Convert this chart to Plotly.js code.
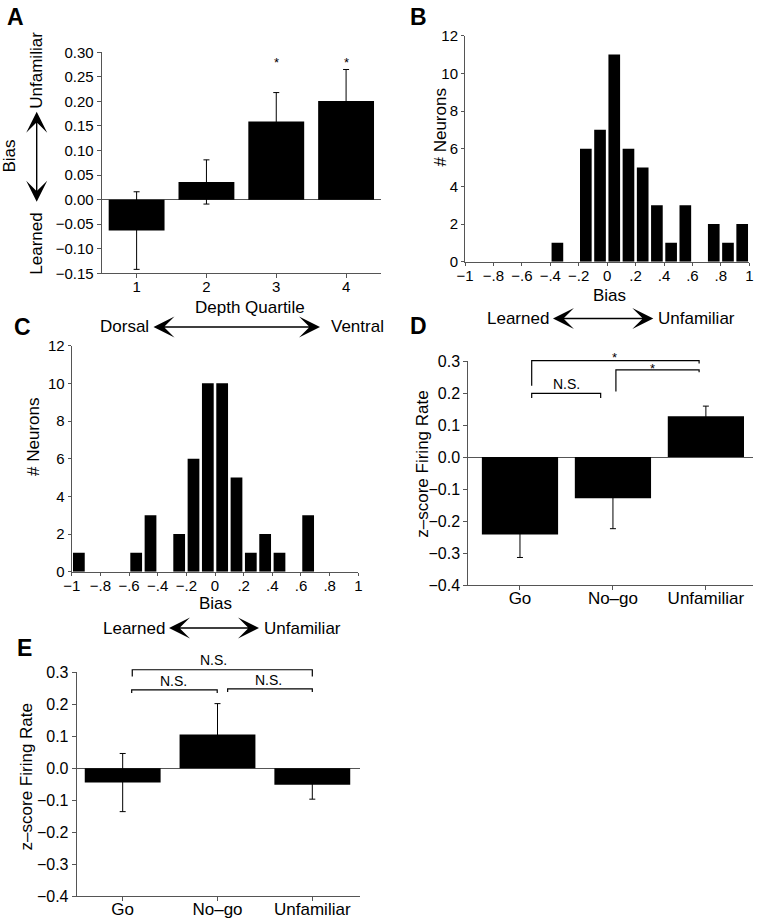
<!DOCTYPE html>
<html><head><meta charset="utf-8">
<script src="https://cdn.plot.ly/plotly-3.0.1.min.js"></script>
<style>html,body{margin:0;padding:0;background:#fff}</style>
</head><body>
<div id="chart" style="width:758px;height:922px"></div>
<script>
// ---------- DATA ----------
// Panel A: bias by depth quartile
const quartiles = [1, 2, 3, 4];
const biasMean = [-0.063, 0.036, 0.159, 0.201];
const biasErr = [0.079, 0.045, 0.059, 0.064];
const sigA = ['', '', '*', '*'];

// Panel B: histogram of bias
const binCentersB = [-0.35, -0.15, -0.05, 0.05, 0.15, 0.25, 0.35, 0.45, 0.55, 0.65, 0.75, 0.85, 0.95];
const countsB = [1, 6, 7, 11, 6, 5, 3, 1, 3, 0, 2, 1, 2];

// Panel C: histogram of bias
const binCentersC = [-0.95, -0.55, -0.45, -0.25, -0.15, -0.05, 0.05, 0.15, 0.25, 0.35, 0.45, 0.65];
const countsC = [1, 1, 3, 2, 6, 10, 10, 5, 1, 2, 1, 3];

const biasTickVals = [-1, -0.8, -0.6, -0.4, -0.2, 0, 0.2, 0.4, 0.6, 0.8, 1];
const biasTickText = ['\u22121', '\u2212.8', '\u2212.6', '\u2212.4', '\u2212.2', '0', '.2', '.4', '.6', '.8', '1'];

// Panels D and E: z-score firing rate
const stimuli = ['Go', 'No\u2013go', 'Unfamiliar'];
const zD = [-0.242, -0.129, 0.127];
const errD = [0.072, 0.095, 0.032];
const zE = [-0.045, 0.105, -0.052];
const errE = [0.091, 0.097, 0.045];

// ---------- LAYOUT HELPERS ----------
const W = 758, H = 922;
const FONT = 'Liberation Sans, Arial, Helvetica, sans-serif';
const px = v => v / W;
const py = v => 1 - v / H;
const xdom = (a, b) => [a / W, b / W];
const ydom = (top, bottom) => [1 - bottom / H, 1 - top / H];
const yPaper = (dom, rng, v) => dom[0] + (v - rng[0]) / (rng[1] - rng[0]) * (dom[1] - dom[0]);

const AXC = '#555';
const axBase = {
  showline: true, linecolor: AXC, linewidth: 1, ticks: 'outside', ticklen: 4,
  tickcolor: AXC, tickwidth: 1, showgrid: false, zeroline: false,
  tickfont: {family: FONT, size: 15, color: '#000'}, fixedrange: true
};

const domA = {x: xdom(101.7, 381), y: ydom(52.3, 273.3)};
const domB = {x: xdom(465, 749.3), y: ydom(35.7, 261.7)};
const domC = {x: xdom(71.7, 358.3), y: ydom(345.7, 571.7)};
const domD = {x: xdom(468.3, 753.3), y: ydom(361, 585)};
const domE = {x: xdom(76.7, 360), y: ydom(672.3, 896)};
const rngA = [-0.15, 0.30];
const rngZ = [-0.4, 0.3];
const idx = stimuli.map((_, i) => i);

const errStyle = arr => ({type: 'data', array: arr, visible: true, color: '#000', thickness: 1, width: 3});

// ---------- TRACES ----------
const traces = [
  {type: 'bar', x: quartiles, y: biasMean, width: 0.8, marker: {color: '#000', line: {width: 0}},
   error_y: errStyle(biasErr), xaxis: 'x', yaxis: 'y', hoverinfo: 'skip'},
  {type: 'bar', x: binCentersB, y: countsB, width: 0.082, marker: {color: '#000', line: {width: 0}},
   xaxis: 'x2', yaxis: 'y2', hoverinfo: 'skip'},
  {type: 'bar', x: binCentersC, y: countsC, width: 0.082, marker: {color: '#000', line: {width: 0}},
   xaxis: 'x3', yaxis: 'y3', hoverinfo: 'skip'},
  {type: 'bar', x: idx, y: zD, width: 0.82, marker: {color: '#000', line: {width: 0}},
   error_y: errStyle(errD), xaxis: 'x4', yaxis: 'y4', hoverinfo: 'skip'},
  {type: 'bar', x: idx, y: zE, width: 0.8, marker: {color: '#000', line: {width: 0}},
   error_y: errStyle(errE), xaxis: 'x5', yaxis: 'y5', hoverinfo: 'skip'}
];

// ---------- ANNOTATIONS ----------
const ann = [];
const txt = (x, y, text, size, opts) => ann.push(Object.assign({
  xref: 'paper', yref: 'paper', x: px(x), y: py(y), text: text, showarrow: false,
  font: {family: FONT, size: size, color: '#000'}, xanchor: 'center', yanchor: 'middle'
}, opts || {}));
const arrow = (x1, y1, x0, y0) => ann.push({
  xref: 'paper', yref: 'paper', x: px(x1), y: py(y1), ax: x0 - x1, ay: y0 - y1,
  axref: 'pixel', ayref: 'pixel', text: '', showarrow: true,
  arrowhead: 3, startarrowhead: 3, arrowside: 'end+start', arrowsize: 2.5, startarrowsize: 2.5,
  arrowwidth: 1.4, arrowcolor: '#000', standoff: 0, startstandoff: 0
});

// panel letters
txt(15.5, 17.5, '<b>A</b>', 23);
txt(418, 17, '<b>B</b>', 23);
txt(22.5, 327, '<b>C</b>', 23);
txt(418, 326, '<b>D</b>', 23);
txt(24, 648, '<b>E</b>', 23);

// Panel A titles
txt(8.5, 156, 'Bias', 17, {textangle: -90});
txt(36.7, 244, 'Learned', 17, {textangle: -90});
txt(36.7, 70, 'Unfamiliar', 17, {textangle: -90});
arrow(36.7, 111.7, 36.7, 203.3);
txt(249.7, 307, 'Depth Quartile', 17);
txt(151, 327, 'Dorsal', 17, {xanchor: 'right'});
txt(329, 327, 'Ventral', 17, {xanchor: 'left'});
arrow(320, 327, 152, 327);
quartiles.forEach((q, i) => {
  if (sigA[i]) ann.push({xref: 'x', yref: 'y', x: q, y: 0.279, text: sigA[i], showarrow: false,
    font: {family: FONT, size: 13, color: '#000'}, yanchor: 'middle'});
});

// Panel B titles
txt(440, 127.5, '# Neurons', 17, {textangle: -90});
txt(609.7, 295, 'Bias', 17);
txt(551, 318.5, 'Learned', 17, {xanchor: 'right'});
txt(655.5, 318.5, 'Unfamiliar', 17, {xanchor: 'left'});
arrow(653.3, 318.5, 551.5, 318.5);

// Panel C titles
txt(33.3, 436.7, '# Neurons', 17, {textangle: -90});
txt(215.7, 603, 'Bias', 17);
txt(167, 628, 'Learned', 17, {xanchor: 'right'});
txt(262, 628, 'Unfamiliar', 17, {xanchor: 'left'});
arrow(259, 628, 167.5, 628);

// Panel D titles
txt(421.7, 464, 'z\u2013score Firing Rate', 17, {textangle: -90});
// Panel E titles
txt(26.7, 776.7, 'z\u2013score Firing Rate', 17, {textangle: -90});

// ---------- SIGNIFICANCE BRACKETS ----------
const shapes = [];
const bracket = (xa, dom, x0, x1, yL, yTop, yR) => {
  const p = v => yPaper(dom, rngZ, v);
  shapes.push({type: 'path', xref: xa, yref: 'paper', layer: 'above',
    path: `M${x0},${p(yL)} L${x0},${p(yTop)} L${x1},${p(yTop)} L${x1},${p(yR)}`,
    line: {color: '#000', width: 1.2}});
};
const sigText = (xa, dom, x, y, text, size) => ann.push({xref: xa, yref: 'paper', x: x, y: yPaper(dom, rngZ, y),
  text: text, showarrow: false, font: {family: FONT, size: size, color: '#000'}, yanchor: 'middle'});

// D
bracket('x4', domD.y, 0.126, 1.927, 0.223, 0.301, 0.292);
bracket('x4', domD.y, 1.032, 1.927, 0.205, 0.272, 0.265);
bracket('x4', domD.y, 0.126, 0.868, 0.184, 0.199, 0.184);
sigText('x4', domD.y, 0.502, 0.228, 'N.S.', 14);
sigText('x4', domD.y, 1.014, 0.312, '*', 13);
sigText('x4', domD.y, 1.423, 0.278, '*', 13);
// E
bracket('x5', domE.y, 0.101, 2.0, 0.287, 0.308, 0.287);
bracket('x5', domE.y, 0.095, 0.997, 0.235, 0.245, 0.235);
bracket('x5', domE.y, 1.107, 2.0, 0.238, 0.248, 0.238);
sigText('x5', domE.y, 0.963, 0.339, 'N.S.', 14);
sigText('x5', domE.y, 0.534, 0.272, 'N.S.', 14);
sigText('x5', domE.y, 1.536, 0.276, 'N.S.', 14);

// ---------- LAYOUT ----------
const layout = {
  width: W, height: H, margin: {l: 0, r: 0, t: 0, b: 0},
  paper_bgcolor: '#fff', plot_bgcolor: '#fff', showlegend: false,
  font: {family: FONT, color: '#000'},
  barmode: 'overlay',
  xaxis: Object.assign({}, axBase, {domain: domA.x, anchor: 'y', range: [0.5, 4.5], tickvals: quartiles, ticklabelstandoff: -4}),
  yaxis: Object.assign({}, axBase, {domain: domA.y, anchor: 'x', range: rngA, dtick: 0.05, tickformat: '.2f',
    zeroline: true, zerolinecolor: AXC, zerolinewidth: 1}),
  xaxis2: Object.assign({}, axBase, {domain: domB.x, anchor: 'y2', range: [-1, 1], tickvals: biasTickVals, ticktext: biasTickText, ticklen: 3, ticklabelstandoff: -3}),
  yaxis2: Object.assign({}, axBase, {domain: domB.y, anchor: 'x2', range: [0, 12], dtick: 2, ticklen: 3}),
  xaxis3: Object.assign({}, axBase, {domain: domC.x, anchor: 'y3', range: [-1, 1], tickvals: biasTickVals, ticktext: biasTickText, ticklen: 3, ticklabelstandoff: -3}),
  yaxis3: Object.assign({}, axBase, {domain: domC.y, anchor: 'x3', range: [0, 12], dtick: 2, ticklen: 3}),
  xaxis4: Object.assign({}, axBase, {domain: domD.x, anchor: 'y4', range: [-0.556, 2.51], tickvals: idx, ticktext: stimuli,
    ticklabelstandoff: -6, tickfont: {family: FONT, size: 17, color: '#000'}}),
  yaxis4: Object.assign({}, axBase, {domain: domD.y, anchor: 'x4', range: rngZ, dtick: 0.1, tickformat: '.1f',
    zeroline: true, zerolinecolor: AXC, zerolinewidth: 1, tickfont: {family: FONT, size: 16, color: '#000'}}),
  xaxis5: Object.assign({}, axBase, {domain: domE.x, anchor: 'y5', range: [-0.485, 2.503], tickvals: idx, ticktext: stimuli,
    ticklabelstandoff: -6, tickfont: {family: FONT, size: 17, color: '#000'}}),
  yaxis5: Object.assign({}, axBase, {domain: domE.y, anchor: 'x5', range: rngZ, dtick: 0.1, tickformat: '.1f',
    zeroline: true, zerolinecolor: AXC, zerolinewidth: 1, tickfont: {family: FONT, size: 16, color: '#000'}}),
  annotations: ann,
  shapes: shapes
};

Plotly.newPlot('chart', traces, layout, {staticPlot: true, displayModeBar: false});
</script>
</body></html>
